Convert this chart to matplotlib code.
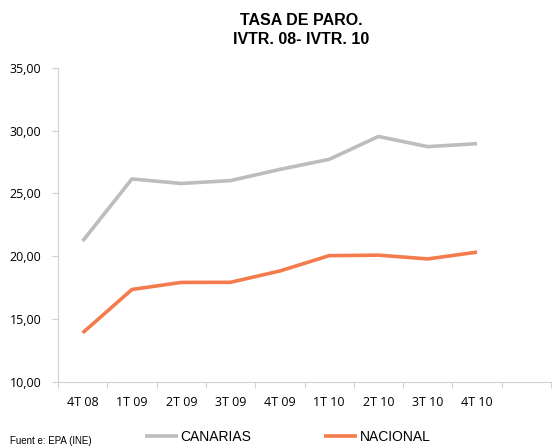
import matplotlib
matplotlib.use("Agg")
import matplotlib.pyplot as plt
from matplotlib.ticker import FuncFormatter

trimestres = ["4T 08", "1T 09", "2T 09", "3T 09", "4T 09", "1T 10", "2T 10", "3T 10", "4T 10"]
canarias = [21.21, 26.15, 25.79, 26.02, 26.91, 27.71, 29.53, 28.72, 28.96]
nacional = [13.91, 17.36, 17.92, 17.93, 18.83, 20.05, 20.09, 19.79, 20.33]

gris = "#BDBDC0"
naranja = "#F47C4C"

plt.rcParams['font.family'] = ['Open Sans', 'DejaVu Sans']

fig = plt.figure(figsize=(5.52, 4.47), dpi=100)
ax = fig.add_axes([58 / 552, 65 / 447, (551 - 58) / 552, 314.3 / 447])

x = list(range(len(trimestres)))
ax.plot(x, canarias, color=gris, lw=2.6, label="CANARIAS", solid_capstyle="butt")
ax.plot(x, nacional, color=naranja, lw=2.6, label="NACIONAL", solid_capstyle="butt")

ax.set_ylim(10, 35)
ax.set_yticks([10, 15, 20, 25, 30, 35])
ax.yaxis.set_major_formatter(FuncFormatter(lambda v, p: f"{v:.2f}".replace(".", ",")))
ax.set_xlim(-0.5, 9.36)
ax.set_xticks([i + 0.5 for i in range(-1, 10)])
ax.set_xticklabels([])
ax.set_xticks(x, minor=True)
ax.set_xticklabels(trimestres, minor=True)
ax.tick_params(axis="x", which="minor", length=0, pad=10, labelsize=9)
ax.tick_params(axis="x", which="major", length=4, color="#D0D0D0")
ax.tick_params(axis="y", length=4, color="#D0D0D0", labelsize=9, pad=8)

for s in ["top", "right"]:
    ax.spines[s].set_visible(False)
for s in ["left", "bottom"]:
    ax.spines[s].set_color("#D0D0D0")
    ax.spines[s].set_linewidth(0.8)

fig.text(0.545, 0.895, "TASA DE PARO.\nIVTR. 08- IVTR. 10", ha="center", va="bottom",
         fontsize=11.5, fontweight="bold", family="Liberation Sans", linespacing=1.3)

fig.text(10 / 552, 1 / 447, "Fuent e: EPA (INE)", fontsize=7, family="Liberation Sans",
         va="bottom")

fig.legend(loc="lower left", bbox_to_anchor=(132 / 552, -0.022), ncol=2, frameon=False,
           handlelength=2.4, handletextpad=0.2, columnspacing=5.2,
           prop={"family": "Liberation Sans", "size": 10})

fig.savefig("out.png", dpi=100)
